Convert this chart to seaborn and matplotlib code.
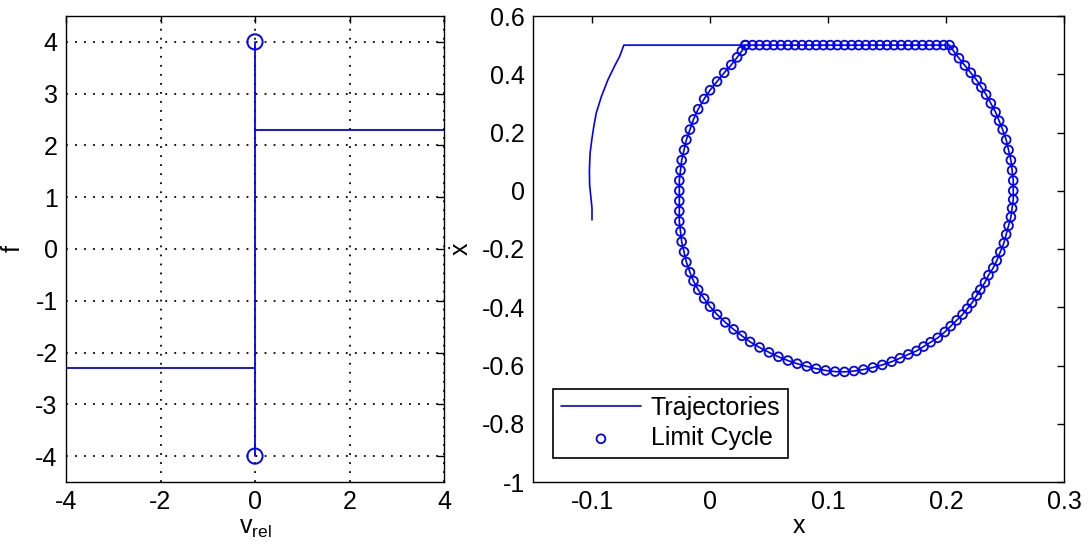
import matplotlib
matplotlib.use("Agg")
import matplotlib.pyplot as plt
import seaborn as sns

# ---------------- data ----------------
# left panel: friction law f(v_rel)
neg_branch_x = [-4, 0]
neg_branch_y = [-2.3, -2.3]
jump_x = [0, 0]
jump_y = [-4, 4]
pos_branch_x = [0, 4]
pos_branch_y = [2.3, 2.3]
stick_limits_x = [0, 0]
stick_limits_y = [4, -4]

left_xticks = [-4, -2, 0, 2, 4]
left_yticks = [-4, -3, -2, -1, 0, 1, 2, 3, 4]

# right panel: transient part of the trajectory (before joining the cycle)
approach_x = [-0.100, -0.100, -0.1010, -0.1020, -0.1022, -0.1016, -0.1000, -0.0985,
              -0.0964, -0.0920, -0.0865, -0.0810, -0.0766, -0.0730]
approach_y = [-0.100, -0.060, -0.020, 0.020, 0.070, 0.130, 0.180, 0.220,
              0.267, 0.324, 0.381, 0.427, 0.461, 0.500]

# limit cycle points (clockwise from the top-left corner)
cycle_x = [0.030, 0.036, 0.042, 0.048, 0.054, 0.060, 0.066, 0.072, 0.078, 0.084,
           0.090, 0.096, 0.102, 0.108, 0.114, 0.120, 0.126, 0.132, 0.138, 0.144,
           0.150, 0.156, 0.162, 0.168, 0.174, 0.180, 0.186, 0.192, 0.198, 0.203,
           0.206, 0.211, 0.216, 0.221, 0.226, 0.230, 0.234, 0.238, 0.242, 0.245,
           0.248, 0.251, 0.253, 0.255, 0.256, 0.257, 0.257, 0.257, 0.256, 0.255,
           0.253, 0.251, 0.249, 0.246, 0.243, 0.240, 0.236, 0.233, 0.229, 0.226,
           0.222, 0.218, 0.214, 0.209, 0.204, 0.199, 0.193, 0.187, 0.181, 0.175,
           0.168, 0.161, 0.154, 0.146, 0.138, 0.130, 0.122, 0.114, 0.106, 0.098,
           0.090, 0.082, 0.074, 0.066, 0.058, 0.050, 0.042, 0.034, 0.027, 0.020,
           0.013, 0.006, 0.000, -0.005, -0.010, -0.014, -0.017, -0.020, -0.022, -0.024,
           -0.025, -0.026, -0.026, -0.026, -0.026, -0.026, -0.025, -0.024, -0.022, -0.020,
           -0.017, -0.014, -0.010, -0.005, 0.000, 0.006, 0.012, 0.018, 0.023, 0.027,
           0.030]
cycle_y = [0.500, 0.500, 0.500, 0.500, 0.500, 0.500, 0.500, 0.500, 0.500, 0.500,
           0.500, 0.500, 0.500, 0.500, 0.500, 0.500, 0.500, 0.500, 0.500, 0.500,
           0.500, 0.500, 0.500, 0.500, 0.500, 0.500, 0.500, 0.500, 0.500, 0.500,
           0.482, 0.455, 0.430, 0.405, 0.380, 0.355, 0.330, 0.300, 0.270, 0.240,
           0.210, 0.175, 0.140, 0.105, 0.070, 0.035, 0.000, -0.030, -0.060, -0.090,
           -0.120, -0.150, -0.180, -0.210, -0.240, -0.265, -0.290, -0.315, -0.340, -0.360,
           -0.385, -0.405, -0.425, -0.445, -0.465, -0.485, -0.505, -0.520, -0.535, -0.550,
           -0.562, -0.575, -0.587, -0.598, -0.607, -0.614, -0.619, -0.622, -0.621, -0.617,
           -0.611, -0.603, -0.594, -0.583, -0.570, -0.555, -0.538, -0.519, -0.498, -0.476,
           -0.452, -0.425, -0.398, -0.370, -0.340, -0.310, -0.280, -0.245, -0.210, -0.175,
           -0.140, -0.105, -0.070, -0.035, 0.000, 0.035, 0.070, 0.105, 0.140, 0.175,
           0.210, 0.245, 0.280, 0.315, 0.345, 0.375, 0.405, 0.432, 0.458, 0.480,
           0.500]

right_xticks = [-0.1, 0, 0.1, 0.2, 0.3]
right_xticklabels = ["-0.1", "0", "0.1", "0.2", "0.3"]
right_yticks = [0.6, 0.4, 0.2, 0, -0.2, -0.4, -0.6, -0.8, -1]
right_yticklabels = ["0.6", "0.4", "0.2", "0", "-0.2", "-0.4", "-0.6", "-0.8", "-1"]

series_names = ["Trajectories", "Limit Cycle"]

# ---------------- style ----------------
sns.set_theme(style="white")
plt.rcParams["font.family"] = ["Liberation Sans", "DejaVu Sans"]
plt.rcParams["mathtext.fontset"] = "custom"
plt.rcParams["mathtext.rm"] = "Liberation Sans"
plt.rcParams["mathtext.it"] = "Liberation Sans"
plt.rcParams["text.color"] = "black"
plt.rcParams["axes.labelcolor"] = "black"
FS = 18

fig = plt.figure(figsize=(10.89, 5.45), dpi=100)
fig.patch.set_facecolor("white")

W, H = 1089.0, 545.0
axL = fig.add_axes([66 / W, (H - 482) / H, (444 - 66) / W, (482 - 16) / H])
axR = fig.add_axes([533 / W, (H - 482) / H, (1064 - 533) / W, (482 - 16) / H])

BLUE = "#0000ff"

def matlab_axes(ax):
    for s in ax.spines.values():
        s.set_color("black")
        s.set_linewidth(1.0)
        s.set_visible(True)
    ax.tick_params(direction="in", length=5, width=1, colors="black",
                   top=True, right=True, labelsize=FS, pad=6)
    ax.set_facecolor("white")

# ---- left panel ----
sns.lineplot(x=neg_branch_x, y=neg_branch_y, ax=axL, color=BLUE, lw=1.3,
             sort=False, estimator=None)
sns.lineplot(x=jump_x, y=jump_y, ax=axL, color=BLUE, lw=1.3,
             sort=False, estimator=None)
sns.lineplot(x=pos_branch_x, y=pos_branch_y, ax=axL, color=BLUE, lw=1.3,
             sort=False, estimator=None)
sns.scatterplot(x=stick_limits_x, y=stick_limits_y, ax=axL, marker="o", s=120,
                facecolor="none", edgecolor=BLUE, linewidth=1.4, zorder=5)
axL.set_xlim(-4, 4)
axL.set_ylim(-4.5, 4.5)
axL.set_xticks(left_xticks)
axL.set_xticklabels([str(v) for v in left_xticks])
axL.set_yticks(left_yticks)
axL.set_yticklabels([str(v) for v in left_yticks])
axL.grid(True, color="black", linestyle=(0, (1, 4)), linewidth=1.3)
axL.set_axisbelow(True)
matlab_axes(axL)
axL.set_xlabel(r"v$_{\mathrm{rel}}$", fontsize=FS, labelpad=1)
axL.set_ylabel("f", fontsize=FS, labelpad=8)

# ---- right panel ----
traj_x = approach_x + cycle_x
traj_y = approach_y + cycle_y
sns.lineplot(x=traj_x, y=traj_y, ax=axR, color=BLUE, lw=1.2, sort=False,
             estimator=None, label=series_names[0])
sns.scatterplot(x=cycle_x, y=cycle_y, ax=axR, marker="o", s=40,
                facecolor="none", edgecolor=BLUE, linewidth=1.3,
                label=series_names[1], zorder=5)
axR.set_xlim(-0.15, 0.3)
axR.set_ylim(-1, 0.6)
axR.set_xticks(right_xticks)
axR.set_xticklabels(right_xticklabels)
axR.set_yticks(right_yticks)
axR.set_yticklabels(right_yticklabels)
axR.grid(False)
matlab_axes(axR)
axR.set_xlabel("x", fontsize=FS, labelpad=0)
axR.set_ylabel(r"$\dot{x}$", fontsize=FS, labelpad=5)

leg = axR.legend(loc="lower left", fontsize=FS, frameon=True, fancybox=False,
                 edgecolor="black", framealpha=1, handlelength=3.2,
                 borderpad=0.3, labelspacing=0.25, handletextpad=0.4,
                 bbox_to_anchor=(0.015, 0.025))
leg.get_frame().set_linewidth(1.2)

fig.savefig("out.png", dpi=100, facecolor="white")
